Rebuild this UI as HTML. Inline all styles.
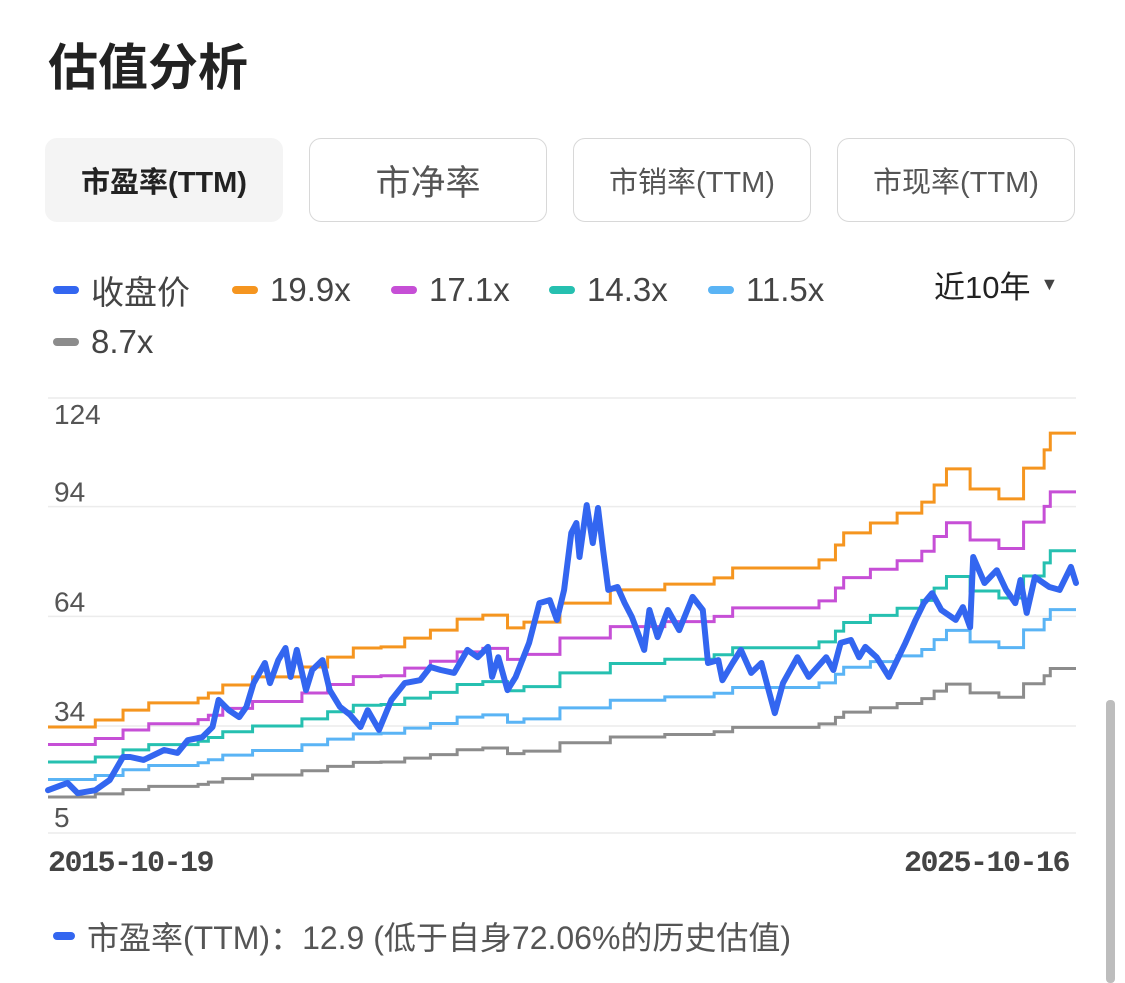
<!DOCTYPE html>
<html><head><meta charset="utf-8">
<style>
body{margin:0;width:1125px;height:983px;overflow:hidden;background:#fff;font-family:"Liberation Sans","Noto Sans CJK SC",sans-serif;color:#333;position:relative}
.abs{position:absolute}
.title{left:48px;top:28px;font-size:50px;font-weight:bold;color:#222;font-family:"Noto Sans CJK SC",sans-serif}
.tab{top:138px;height:84px;width:238px;border:1px solid #d8d8d8;border-radius:12px;box-sizing:border-box;display:flex;align-items:center;justify-content:center;font-size:29px;color:#555;font-family:"Liberation Sans","Noto Sans CJK SC",sans-serif}
.tab.active{background:#f4f4f4;border-color:#f4f4f4;color:#222;font-weight:600}
.leg{font-size:33px;color:#444;display:flex;align-items:center;height:40px}
.dash{width:26px;height:8px;border-radius:4px;margin-right:12px;display:inline-block}
.xlab{font-size:30px;color:#444;font-weight:bold;font-family:"Liberation Mono","DejaVu Sans Mono",monospace;letter-spacing:-1.5px}
</style></head><body>
<div class="abs title">估值分析</div>
<div class="abs tab active" style="left:45px">市盈率(TTM)</div>
<div class="abs tab" style="left:309px;font-size:35px">市净率</div>
<div class="abs tab" style="left:573px">市销率(TTM)</div>
<div class="abs tab" style="left:837px">市现率(TTM)</div>

<div class="abs leg" style="left:53px;top:270px"><span class="dash" style="background:#3366f0"></span>收盘价</div>
<div class="abs leg" style="left:232px;top:270px"><span class="dash" style="background:#f5951f"></span>19.9x</div>
<div class="abs leg" style="left:391px;top:270px"><span class="dash" style="background:#c64fd6"></span>17.1x</div>
<div class="abs leg" style="left:549px;top:270px"><span class="dash" style="background:#26c0b0"></span>14.3x</div>
<div class="abs leg" style="left:708px;top:270px"><span class="dash" style="background:#5ab4f5"></span>11.5x</div>
<div class="abs leg" style="left:53px;top:322px"><span class="dash" style="background:#8c8c8c"></span>8.7x</div>
<div class="abs leg" style="left:934px;top:264px;color:#222;font-size:31px">近10年<span style="font-size:18px;margin-left:10px;color:#444">▼</span></div>

<svg class="abs" style="left:0;top:0" width="1125" height="983" id="chart"></svg>

<div class="abs xlab" style="left:48px;top:847px">2015-10-19</div>
<div class="abs xlab" style="left:904px;top:847px">2025-10-16</div>

<div class="abs leg" style="left:53px;top:916px;color:#555;font-size:32px"><span class="dash" style="background:#3366f0;width:22px"></span>市盈率(TTM)：12.9 (低于自身72.06%的历史估值)</div>
<div class="abs" style="left:1106px;top:700px;width:9px;height:283px;background:#bdbdbd;border-radius:4px"></div>

<script>
const yTicks=[124,94,64,34,5];
const multiples=[19.9,17.1,14.3,11.5,8.7];
const bandColors=['#f5951f','#c64fd6','#26c0b0','#5ab4f5','#8c8c8c'];
const stepTimes=[0,.46,.73,.98,1.46,1.56,1.70,1.99,2.47,2.72,2.97,3.24,3.47,3.72,3.98,4.23,4.47,4.63,4.98,5.47,6.00,6.48,6.66,7.50,7.66,7.74,8.00,8.26,8.50,8.62,8.74,8.97,9.25,9.49,9.69,9.75];
const topBandValues=[34.0,35.9,38.6,40.6,41.9,43.3,45.5,47.7,50.4,53.1,55.6,55.9,58.3,60.5,63.5,64.6,61.1,62.7,67.9,71.5,73.1,74.8,77.5,79.7,83.8,87.1,89.8,92.5,95.5,100.2,104.6,99.1,96.4,104.8,109.8,114.4];
const closeTimes=[0,.19,.29,.46,.60,.73,.80,.93,1.13,1.26,1.36,1.50,1.60,1.66,1.76,1.86,1.93,2.00,2.11,2.16,2.24,2.31,2.36,2.42,2.51,2.57,2.67,2.74,2.84,2.94,3.04,3.11,3.22,3.34,3.47,3.62,3.72,3.82,3.95,4.08,4.18,4.28,4.32,4.38,4.47,4.55,4.68,4.78,4.88,4.95,5.02,5.09,5.14,5.17,5.24,5.30,5.35,5.40,5.45,5.54,5.61,5.68,5.80,5.85,5.93,6.03,6.14,6.27,6.37,6.42,6.52,6.56,6.66,6.74,6.84,6.94,7.01,7.07,7.15,7.29,7.40,7.57,7.64,7.71,7.81,7.89,7.95,8.06,8.18,8.34,8.44,8.52,8.60,8.69,8.83,8.90,8.97,9.00,9.11,9.23,9.32,9.41,9.46,9.52,9.60,9.74,9.84,9.95,10.0];
const closeValues=[16.7,18.7,15.9,16.7,19.5,25.8,25.8,25.0,27.7,26.9,30.4,31.2,34.0,41.4,38.6,36.7,39.5,46.0,51.5,46.0,52.3,55.6,47.7,55.1,44.1,49.6,52.3,44.1,39.5,37.3,34.0,38.6,33.2,41.4,46.0,46.8,50.4,49.6,48.8,55.1,53.1,55.9,47.7,53.1,44.1,47.7,57.0,67.9,68.7,63.3,71.5,87.1,89.8,80.5,94.7,84.3,93.9,82.4,71.5,72.3,67.9,64.1,55.1,66.0,58.6,66.0,60.5,69.6,66.0,51.5,52.3,46.8,51.5,55.1,48.8,51.5,44.1,37.8,46.0,53.1,47.7,53.1,49.6,57.0,57.8,53.1,55.9,53.1,47.7,57.0,63.3,67.9,70.6,66.0,63.3,66.8,61.3,80.5,73.4,76.9,71.5,67.9,74.2,65.2,75.0,72.3,71.5,77.8,73.4];

const svg=document.getElementById('chart');
const NS='http://www.w3.org/2000/svg';
const X0=48,X1=1076,YTOP=398,YBOT=833;
function xs(t){return X0+(t/10)*(X1-X0);}
function ys(v){return YTOP+(124-v)*(YBOT-YTOP)/119;}

[124,94,64,34].forEach(function(v){
  const l=document.createElementNS(NS,'line');
  
  
  const y=v===124?YTOP:ys(v)-1;
  l.setAttribute('x1',X0);l.setAttribute('x2',X1);l.setAttribute('y1',y);l.setAttribute('y2',y);
  l.setAttribute('stroke','#ececec');l.setAttribute('stroke-width','1.5');
  svg.appendChild(l);
});
const base=document.createElementNS(NS,'line');


base.setAttribute('x1',X0);base.setAttribute('x2',X1);base.setAttribute('y1',YBOT);base.setAttribute('y2',YBOT);
base.setAttribute('stroke','#ececec');base.setAttribute('stroke-width','1.5');
svg.appendChild(base);

yTicks.forEach(function(v){
  const t=document.createElementNS(NS,'text');
  
  
  const y=v===124?YTOP+26:ys(v)-6;
  t.setAttribute('x',54);t.setAttribute('y',y);
  t.setAttribute('font-size','28');t.setAttribute('fill','#555');
  t.setAttribute('font-family','Liberation Sans, sans-serif');
  t.textContent=v;
  svg.appendChild(t);
});

multiples.forEach(function(m,i){
  let d='';
  stepTimes.forEach(function(t,j){
    const v=topBandValues[j]*m/19.9;
    if(j===0)d+='M'+xs(t)+' '+ys(v);
    else d+=' H'+xs(t)+' V'+ys(v);
  });
  d+=' H'+xs(10);
  const p=document.createElementNS(NS,'path');
  
  
  p.setAttribute('d',d);p.setAttribute('fill','none');
  p.setAttribute('stroke',bandColors[i]);p.setAttribute('stroke-width','3');
  svg.appendChild(p);
});

let cd='';
closeTimes.forEach(function(t,j){cd+=(j?' L':'M')+xs(t).toFixed(1)+' '+ys(closeValues[j]).toFixed(1);});
const cp=document.createElementNS(NS,'path');


cp.setAttribute('d',cd);cp.setAttribute('fill','none');
cp.setAttribute('stroke','#3366f0');cp.setAttribute('stroke-width','6');
cp.setAttribute('stroke-linejoin','round');cp.setAttribute('stroke-linecap','round');
svg.appendChild(cp);
</script>
</body></html>
